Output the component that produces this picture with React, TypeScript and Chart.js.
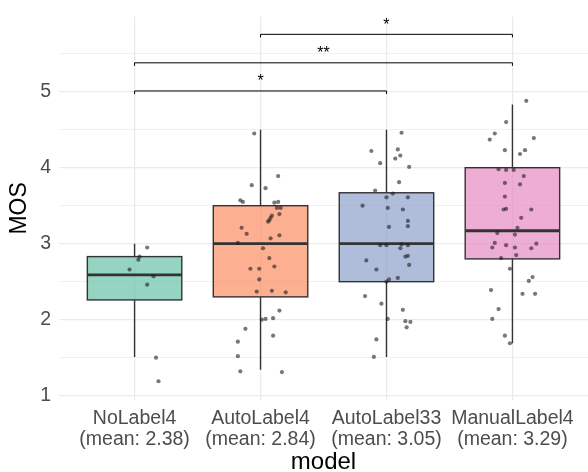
import React, { useEffect, useRef } from "react";
import { Chart, registerables } from "chart.js";

Chart.register(...registerables);

const categories = ["NoLabel4", "AutoLabel4", "AutoLabel33", "ManualLabel4"];
const means = ["2.38", "2.84", "3.05", "3.29"];

const whiskerLow = [1.51, 1.34, 1.51, 1.69];
const q1 = [2.26, 2.3, 2.5, 2.8];
const median = [2.59, 3.0, 3.0, 3.17];
const q3 = [2.83, 3.5, 3.67, 4.0];
const whiskerHigh = [3.0, 4.5, 4.5, 4.83];

const boxColors = [
  "rgba(102,194,165,0.7)",
  "rgba(252,141,98,0.7)",
  "rgba(141,160,203,0.7)",
  "rgba(231,138,195,0.7)",
];

const noLabel4Values = [2.95, 2.83, 2.79, 2.66, 2.57, 2.46, 1.5, 1.19];
const noLabel4Jitter = [0.1, 0.04, 0.03, -0.04, 0.15, 0.1, 0.17, 0.19];

const autoLabel4Values = [
  4.45, 3.89, 3.77, 3.73, 3.57, 3.55, 3.54, 3.55, 3.47, 3.47, 3.37, 3.34, 3.31,
  3.29, 3.39, 3.21, 3.13, 3.11, 3.07, 3.01, 2.94, 2.81, 2.7, 2.67, 2.67, 2.53,
  2.37, 2.38, 2.36, 2.12, 2.0, 2.01, 2.02, 1.88, 1.79, 1.71, 1.52, 1.32, 1.31,
];
const autoLabel4Jitter = [
  -0.05, 0.14, -0.07, 0.04, -0.16, -0.14, 0.11, 0.14, 0.13, 0.16, 0.09, 0.08,
  0.07, 0.06, 0.15, -0.15, -0.11, 0.15, 0.08, -0.18, 0.02, 0.07, 0.11, -0.08,
  -0.01, -0.01, -0.03, 0.09, 0.2, 0.15, 0.01, 0.04, 0.1, -0.12, 0.1, -0.18,
  -0.18, -0.16, 0.17,
];

const autoLabel33Values = [
  4.46, 4.22, 4.24, 4.16, 4.12, 4.06, 4.01, 3.81, 3.7, 3.66, 3.61, 3.61, 3.5,
  3.47, 3.45, 3.3, 3.23, 3.22, 2.98, 2.98, 2.99, 2.98, 2.94, 2.78, 2.83, 2.84,
  2.72, 2.66, 2.53, 2.55, 2.5, 2.31, 2.21, 2.13, 2.01, 1.98, 1.97, 1.9, 1.74,
  1.51,
];
const autoLabel33Jitter = [
  0.12, -0.12, 0.09, 0.11, 0.07, -0.05, 0.18, 0.1, -0.09, 0.05, 0.0, 0.17,
  -0.19, 0.01, 0.13, 0.17, 0.17, 0.02, -0.05, 0.0, 0.12, 0.17, 0.11, -0.16,
  0.15, 0.17, 0.18, -0.08, 0.02, 0.09, 0.0, -0.17, -0.04, 0.13, 0.01, 0.15,
  0.19, 0.16, -0.08, -0.1,
];

const manualLabel4Values = [
  4.88, 4.6, 4.45, 4.37, 4.39, 4.23, 4.18, 4.23, 3.98, 3.97, 3.97, 3.89, 3.8,
  3.78, 3.62, 3.45, 3.46, 3.45, 3.34, 3.21, 3.14, 3.12, 3.01, 2.98, 2.95, 2.95,
  2.94, 3.0, 2.85, 2.81, 2.67, 2.56, 2.51, 2.39, 2.34, 2.34, 2.14, 2.01, 1.79,
  1.69,
];
const manualLabel4Jitter = [
  0.11, -0.05, -0.14, -0.18, 0.17, -0.06, 0.06, 0.1, -0.11, -0.05, 0.01, 0.09,
  -0.06, 0.06, -0.06, -0.07, -0.05, 0.15, 0.07, 0.04, -0.12, 0.02, -0.14,
  -0.05, -0.16, 0.02, 0.15, 0.19, 0.03, -0.09, -0.02, 0.16, 0.13, -0.17, 0.08,
  0.18, -0.11, -0.16, -0.06, -0.02,
];

const groupValues = [noLabel4Values, autoLabel4Values, autoLabel33Values, manualLabel4Values];
const groupJitter = [noLabel4Jitter, autoLabel4Jitter, autoLabel33Jitter, manualLabel4Jitter];

// significance comparisons: from group, to group, bracket height, label
const sigFrom = [1, 1, 2];
const sigTo = [3, 4, 4];
const sigHeight = [5.01, 5.38, 5.755];
const sigLabels = ["*", "**", "*"];

const yTickValues = [1, 1.5, 2, 2.5, 3, 3.5, 4, 4.5, 5, 5.5];

const FONT = "'Liberation Sans', Arial, Helvetica, sans-serif";
const BOX_HALF = 0.375;
const TIP = 0.04;

const boxPlugin = {
  id: "boxes",
  beforeDatasetsDraw(chart: any) {
    const { ctx, scales } = chart;
    const x = scales.x;
    const y = scales.y;
    ctx.save();
    categories.forEach((_, i) => {
      const cx = x.getPixelForValue(i + 1);
      const hw = x.getPixelForValue(i + 1 + BOX_HALF) - cx;
      ctx.strokeStyle = "#333333";
      ctx.lineWidth = 1.4;
      ctx.beginPath();
      ctx.moveTo(cx, y.getPixelForValue(whiskerHigh[i]));
      ctx.lineTo(cx, y.getPixelForValue(q3[i]));
      ctx.moveTo(cx, y.getPixelForValue(q1[i]));
      ctx.lineTo(cx, y.getPixelForValue(whiskerLow[i]));
      ctx.stroke();
      const top = y.getPixelForValue(q3[i]);
      const bot = y.getPixelForValue(q1[i]);
      ctx.fillStyle = boxColors[i];
      ctx.fillRect(cx - hw, top, 2 * hw, bot - top);
      ctx.strokeRect(cx - hw, top, 2 * hw, bot - top);
      const my = y.getPixelForValue(median[i]);
      ctx.lineWidth = 2.8;
      ctx.beginPath();
      ctx.moveTo(cx - hw, my);
      ctx.lineTo(cx + hw, my);
      ctx.stroke();
    });
    ctx.restore();
  },
};

const sigPlugin = {
  id: "signif",
  afterDatasetsDraw(chart: any) {
    const { ctx, scales } = chart;
    const x = scales.x;
    const y = scales.y;
    ctx.save();
    ctx.strokeStyle = "#000000";
    ctx.lineWidth = 1;
    ctx.fillStyle = "#000000";
    ctx.font = `16px ${FONT}`;
    ctx.textAlign = "center";
    ctx.textBaseline = "alphabetic";
    sigLabels.forEach((lab, i) => {
      const x1 = x.getPixelForValue(sigFrom[i]);
      const x2 = x.getPixelForValue(sigTo[i]);
      const yb = y.getPixelForValue(sigHeight[i]);
      const yt = y.getPixelForValue(sigHeight[i] - TIP);
      ctx.beginPath();
      ctx.moveTo(x1, yt);
      ctx.lineTo(x1, yb);
      ctx.lineTo(x2, yb);
      ctx.lineTo(x2, yt);
      ctx.stroke();
      ctx.fillText(lab, (x1 + x2) / 2, yb - 4.5);
    });
    ctx.restore();
  },
};

export default function App() {
  const ref = useRef<HTMLCanvasElement | null>(null);
  useEffect(() => {
    if (!ref.current) return;
    const datasets = categories.map((c, i) => ({
      type: "scatter" as const,
      label: c,
      data: groupValues[i].map((v, k) => ({ x: i + 1 + groupJitter[i][k], y: v })),
      pointRadius: 2.1,
      pointHoverRadius: 2.1,
      pointBackgroundColor: "rgba(30,30,30,0.6)",
      pointBorderWidth: 0,
    }));
    const chart = new Chart(ref.current, {
      type: "scatter",
      data: { datasets },
      plugins: [boxPlugin, sigPlugin],
      options: {
        animation: false,
        responsive: true,
        maintainAspectRatio: false,
        layout: { autoPadding: false, padding: { top: 16.7, right: 0, left: 0, bottom: 0 } },
        plugins: { legend: { display: false }, tooltip: { enabled: false } },
        scales: {
          x: {
            type: "linear",
            min: 0.4,
            max: 4.6,
            afterBuildTicks: (scale: any) => {
              scale.ticks = categories.map((_, i) => ({ value: i + 1 }));
            },
            afterFit: (scale: any) => {
              scale.height = 72;
              scale.paddingLeft = 0;
              scale.paddingRight = 0;
            },
            border: { display: false },
            grid: { color: "#ebebeb", lineWidth: 1.3, drawTicks: false },
            ticks: {
              autoSkip: false,
              maxRotation: 0,
              padding: 8,
              color: "#4d4d4d",
              font: { family: FONT, size: 19.5, lineHeight: 1.09 },
              callback: (v: any) => {
                const i = Math.round(Number(v)) - 1;
                return [categories[i], `(mean: ${means[i]})`];
              },
            },
            title: {
              display: true,
              text: "model",
              color: "#000000",
              font: { family: FONT, size: 24, lineHeight: 0.8 },
              padding: { top: 0, bottom: 0 },
            },
          },
          y: {
            type: "linear",
            min: 0.943,
            max: 5.987,
            afterBuildTicks: (scale: any) => {
              scale.ticks = yTickValues.map((v) => ({ value: v }));
            },
            afterFit: (scale: any) => {
              scale.width = 59;
              scale.paddingTop = 0;
              scale.paddingBottom = 0;
            },
            border: { display: false },
            grid: {
              color: "#ebebeb",
              drawTicks: false,
              lineWidth: (ctx: any) =>
                ctx.tick && Number.isInteger(ctx.tick.value) ? 1.3 : 0.7,
            },
            ticks: {
              padding: 8,
              color: "#4d4d4d",
              font: { family: FONT, size: 19.5 },
              callback: (v: any) => (Number.isInteger(Number(v)) ? String(v) : ""),
            },
            title: {
              display: true,
              text: "MOS",
              color: "#000000",
              font: { family: FONT, size: 23, lineHeight: 1.2 },
              padding: { top: 6, bottom: 0 },
            },
          },
        },
      },
    });
    return () => chart.destroy();
  }, []);
  return (
    <div style={{ position: "fixed", left: 0, top: 0, width: 588, height: 472 }}>
      <canvas ref={ref} />
    </div>
  );
}
